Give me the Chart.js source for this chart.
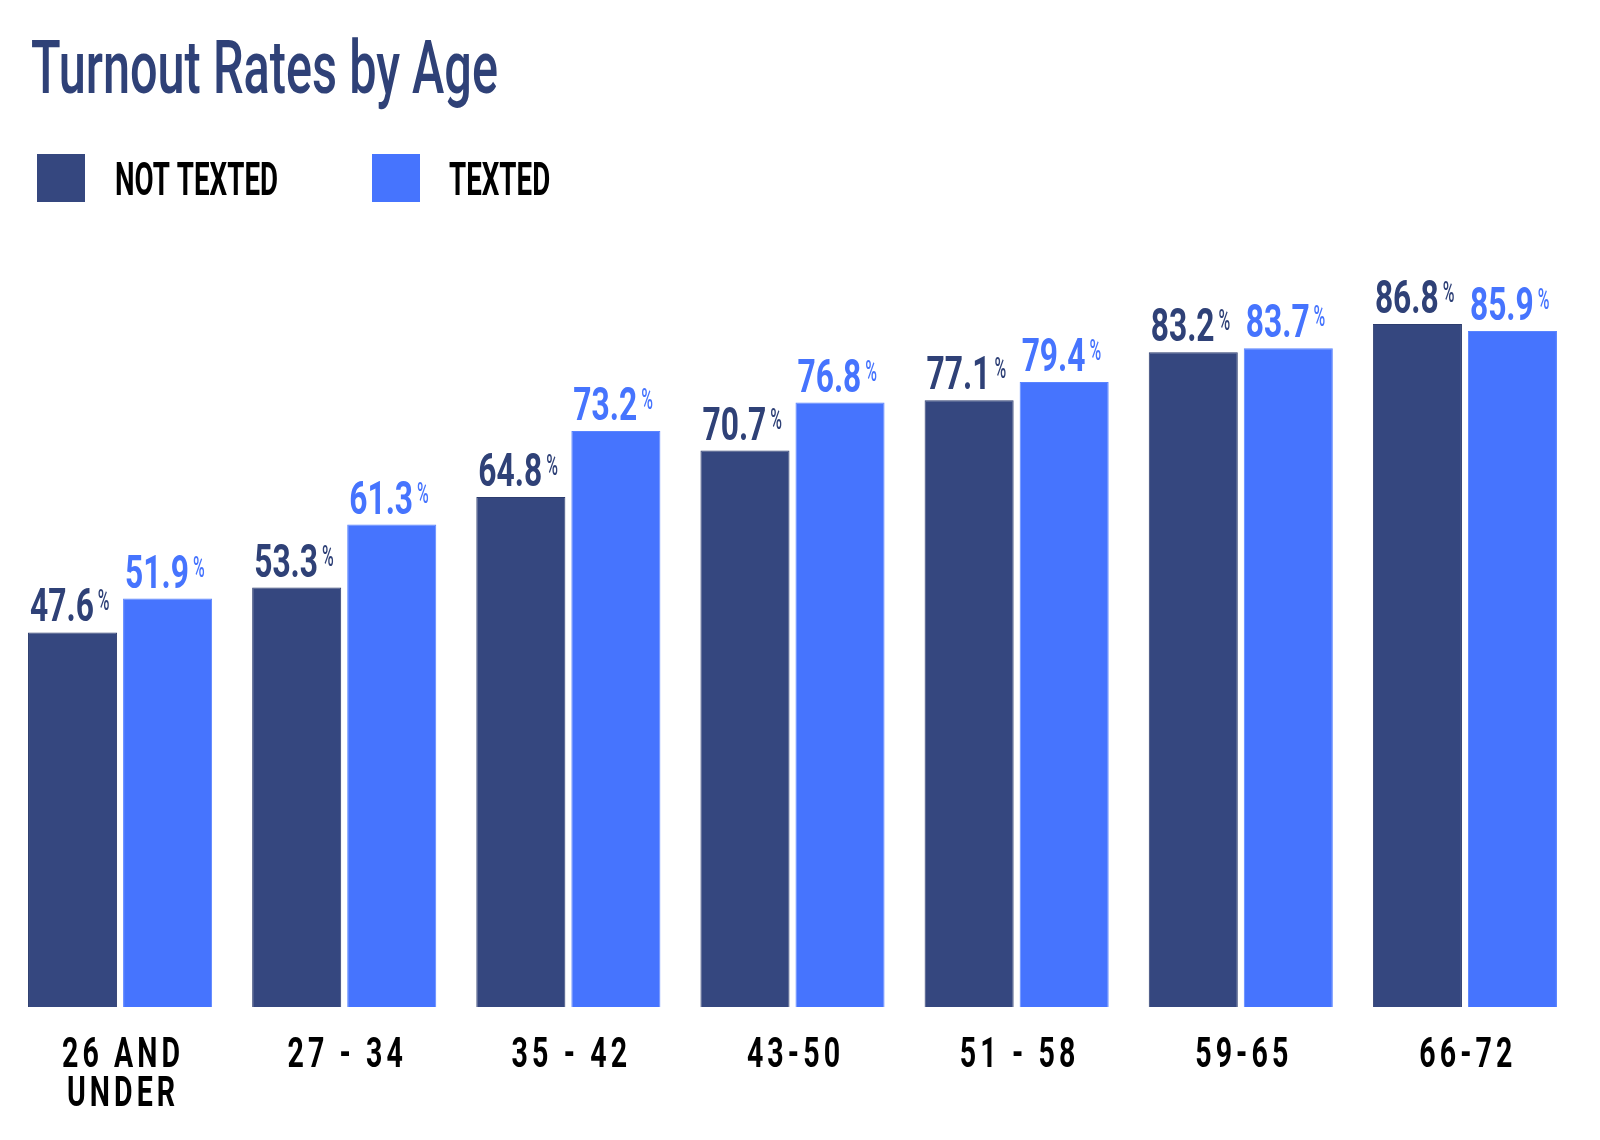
<!DOCTYPE html>
<html>
<head>
<meta charset="utf-8">
<title>Turnout Rates by Age</title>
<script src="https://cdn.jsdelivr.net/npm/chart.js@4.4.1/dist/chart.umd.min.js"></script>
<style>
  html, body { margin: 0; padding: 0; background: #fff; }
  #wrap { width: 1600px; height: 1140px; position: relative; }
</style>
</head>
<body>
<div id="wrap"><canvas id="myChart" width="1600" height="1140"></canvas></div>
<script>
// data
const ageGroups = [['26 AND', 'UNDER'], '27 - 34', '35 - 42', '43-50', '51 - 58', '59-65', '66-72'];
const notTexted = [47.6, 53.3, 64.8, 70.7, 77.1, 83.2, 86.8];
const texted = [51.9, 61.3, 73.2, 76.8, 79.4, 83.7, 85.9];
const seriesNames = ['NOT TEXTED', 'TEXTED'];
const seriesColors = ['#35477f', '#4674fe'];
const titleText = 'Turnout Rates by Age';

// no condensed font installed, so squeeze Roboto horizontally
const FONT = "Roboto, 'Noto Sans', sans-serif";
const SQUEEZE = 0.68;

function squeezedText(ctx, text, x, y, sx) {
    ctx.save();
    ctx.translate(x, y);
    ctx.scale(sx, 1);
    ctx.fillText(text, 0, 0);
    ctx.restore();
}

// title + legend drawn by hand so they sit where the original puts them
const header = {
    id: 'header',
    afterDraw(chart) {
        const ctx = chart.ctx;
        ctx.save();
        ctx.textBaseline = 'alphabetic';
        ctx.textAlign = 'left';

        ctx.fillStyle = '#2f4177';
        ctx.font = `500 75px ${FONT}`;
        const tw = ctx.measureText(titleText).width;
        squeezedText(ctx, titleText, 31, 93, 467 / tw);

        const boxX = [37, 372];
        const textX = [115, 449];
        ctx.font = `bold 46px ${FONT}`;
        const lsx = 163 / ctx.measureText(seriesNames[0]).width;
        seriesNames.forEach((name, i) => {
            ctx.fillStyle = seriesColors[i];
            ctx.fillRect(boxX[i], 154, 48, 48);
            ctx.fillStyle = '#000';
            squeezedText(ctx, name, textX[i], 195, lsx);
        });
        ctx.restore();
    }
};

// x labels: centred under each category with wide letter spacing
const ageLabels = {
    id: 'ageLabels',
    afterDraw(chart) {
        const ctx = chart.ctx;
        const xs = chart.scales.x;
        ctx.save();
        ctx.fillStyle = '#000';
        ctx.font = `bold 42px ${FONT}`;
        ctx.textAlign = 'center';
        ctx.textBaseline = 'alphabetic';
        ctx.letterSpacing = '6px';
        ageGroups.forEach((lab, i) => {
            const lines = Array.isArray(lab) ? lab : [lab];
            const cx = xs.getPixelForTick(i) + 3;
            lines.forEach((line, k) => {
                squeezedText(ctx, line, cx, 1067 + k * 39, SQUEEZE);
            });
        });
        ctx.restore();
    }
};

// value labels: number + small raised %
const valueLabels = {
    id: 'valueLabels',
    afterDatasetsDraw(chart) {
        const ctx = chart.ctx;
        chart.data.datasets.forEach((ds, i) => {
            const meta = chart.getDatasetMeta(i);
            meta.data.forEach((bar, j) => {
                const txt = ds.data[j].toFixed(1);
                const left = bar.x - bar.width / 2 + 2;
                const base = bar.y - 11;
                ctx.save();
                ctx.fillStyle = i === 0 ? '#2f4177' : seriesColors[1];
                ctx.textAlign = 'left';
                ctx.font = `bold 46px ${FONT}`;
                ctx.textBaseline = 'alphabetic';
                squeezedText(ctx, txt, left, base, 0.69);
                const w = ctx.measureText(txt).width * 0.69;
                ctx.font = `500 29px ${FONT}`;
                squeezedText(ctx, '%', left + w + 4, base - 11, 0.55);
                ctx.restore();
            });
        });
    }
};

const ctx = document.getElementById('myChart').getContext('2d');
const myChart = new Chart(ctx, {
    type: 'bar',
    data: {
        labels: ageGroups,
        datasets: [
            {
                label: seriesNames[0],
                data: notTexted,
                backgroundColor: seriesColors[0],
                borderColor: '#2c3c6e',
                borderWidth: 1,
                categoryPercentage: 0.848,
                barPercentage: 0.937
            },
            {
                label: seriesNames[1],
                data: texted,
                backgroundColor: seriesColors[1],
                borderColor: '#5a84ff',
                borderWidth: 1,
                categoryPercentage: 0.848,
                barPercentage: 0.937
            }
        ]
    },
    options: {
        responsive: false,
        animation: false,
        devicePixelRatio: 1,
        layout: {
            padding: {left: 8, right: 23, top: 220, bottom: 133}
        },
        plugins: {
            legend: {display: false},
            title: {display: false},
            tooltip: {enabled: false}
        },
        scales: {
            x: {
                grid: {display: false, drawTicks: false},
                border: {display: false},
                ticks: {display: false}
            },
            y: {
                display: false,
                min: 0,
                max: 100
            }
        }
    },
    plugins: [header, valueLabels, ageLabels]
});
</script>
</body>
</html>
